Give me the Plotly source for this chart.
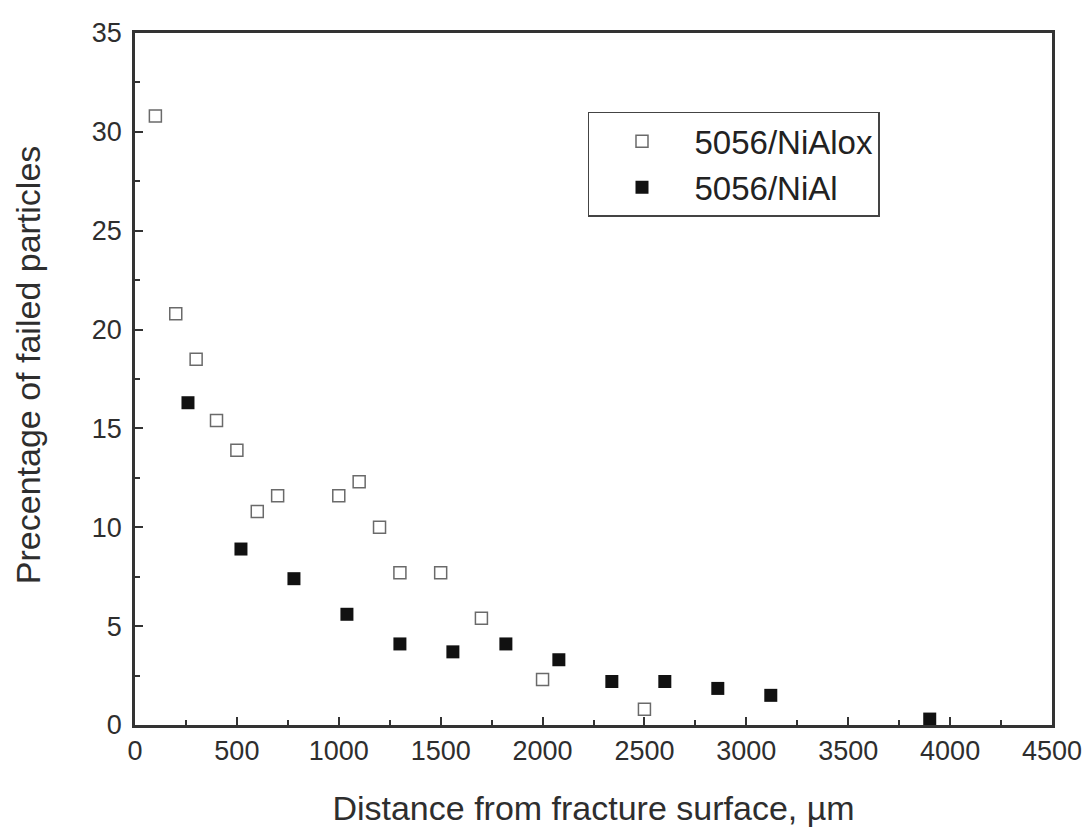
import plotly.graph_objects as go

x_ox = [100, 200, 300, 400, 500, 600, 700, 1000, 1100, 1200, 1300, 1500, 1700, 2000, 2500]
y_ox = [30.8, 20.8, 18.5, 15.4, 13.9, 10.8, 11.6, 11.6, 12.3, 10.0, 7.7, 7.7, 5.4, 2.3, 0.8]

x_al = [260, 520, 780, 1040, 1300, 1560, 1820, 2080, 2340, 2600, 2860, 3120, 3900]
y_al = [16.3, 8.9, 7.4, 5.6, 4.1, 3.7, 4.1, 3.3, 2.2, 2.2, 1.85, 1.5, 0.3]

font_family = "Liberation Sans, Arial, sans-serif"
ink = "#2e2e2e"

fig = go.Figure()
fig.add_trace(go.Scatter(x=x_ox, y=y_ox, mode="markers", name="5056/NiAlox",
                         marker=dict(symbol="square-open", size=12, color="#6a6a6a",
                                     line=dict(width=1.5, color="#6a6a6a"))))
fig.add_trace(go.Scatter(x=x_al, y=y_al, mode="markers", name="5056/NiAl",
                         marker=dict(symbol="square", size=13, color="#111111")))

axis_common = dict(showgrid=False, zeroline=False, showline=True, linecolor="#333333",
                   linewidth=2.5, mirror=True, ticks="inside", ticklen=8, tickwidth=2,
                   tickcolor="#333333", automargin=False,
                   tickfont=dict(size=27, color=ink, family=font_family))

fig.update_xaxes(range=[0, 4500], dtick=500, tick0=0,
                 minor=dict(ticks="inside", ticklen=5, tickwidth=2, dtick=250, tickcolor="#333333"),
                 title=dict(text="Distance from fracture surface, µm", standoff=32,
                            font=dict(size=34, color=ink, family=font_family)),
                 **axis_common)
fig.update_yaxes(range=[0, 35], dtick=5, tick0=0, ticklabelstandoff=5,
                 minor=dict(ticks="inside", ticklen=5, tickwidth=2, dtick=2.5, tickcolor="#333333"),
                 **axis_common)

fig.add_annotation(text="Precentage of failed particles", textangle=-90,
                   xref="paper", yref="paper", x=-0.1167, y=0.52,
                   xanchor="center", yanchor="middle", showarrow=False,
                   font=dict(size=34, color=ink, family=font_family))

fig.update_layout(
    width=1086, height=835,
    margin=dict(l=135, r=34, t=33, b=110),
    plot_bgcolor="white", paper_bgcolor="white",
    showlegend=True,
    legend=dict(x=0.494, y=0.886, xanchor="left", yanchor="top",
                bordercolor="#444444", borderwidth=1.5, bgcolor="white",
                font=dict(size=33, color="#222222", family=font_family),
                itemwidth=95, tracegroupgap=0),
)

fig.write_html("out.html",
               config={"displayModeBar": False},
               post_script="document.body.style.margin='0px';document.body.style.overflow='hidden';")
